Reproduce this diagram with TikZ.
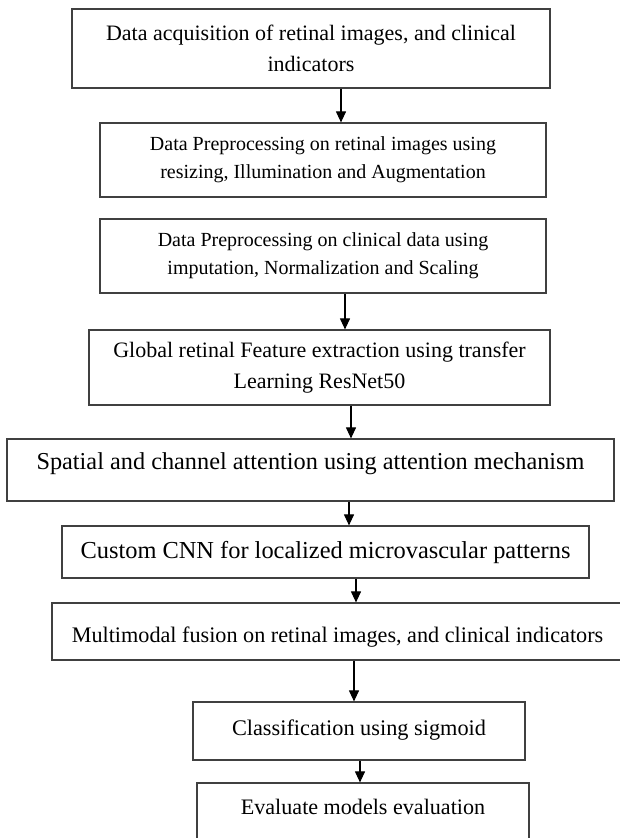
\documentclass[tikz,border=0pt]{standalone}
\usepackage{fontspec}
\setmainfont{Liberation Serif}
\usepackage{tikz}
\usetikzlibrary{arrows.meta, positioning}
\definecolor{boxgray}{RGB}{64,64,64}
\tikzset{
  block/.style={rectangle, draw=boxgray, line width=1.2pt, fill=white,
    align=center, inner sep=2pt},
  fs/.style 2 args={font=\fontsize{#1}{#2}\selectfont},
  arrow/.style={-{Triangle[width=10pt, length=11pt]}, line width=1.1pt, color=black},
}

\begin{document}
\begin{tikzpicture}[x=1pt, y=-1pt]
  \useasboundingbox (0,0) rectangle (620,838);

  \node[block, fs={22}{31}, minimum width=478pt, minimum height=79pt] (acq) at (311,48.5)
    {Data acquisition of retinal images, and clinical\\indicators};
  \node[block, fs={20}{28}, minimum width=446pt, minimum height=74pt] (imgprep) at (323,160)
    {Data Preprocessing on retinal images using\\resizing, Illumination and Augmentation};
  \node[block, fs={20}{28}, minimum width=446pt, minimum height=74pt] (clinprep) at (323,256)
    {Data Preprocessing on clinical data using\\imputation, Normalization and Scaling};
  \node[block, fs={22}{31}, minimum width=461pt, minimum height=75pt] (resnet) at (319.5,367.5)
    {Global retinal Feature extraction using transfer\\Learning ResNet50};
  \node[block, fs={24.3}{30}, minimum width=607pt, minimum height=62pt, text depth=17pt] (attn) at (310.5,470)
    {Spatial and channel attention using attention mechanism};
  \node[block, fs={24.4}{30}, minimum width=527pt, minimum height=52pt] (cnn) at (325.5,552)
    {Custom CNN for localized microvascular patterns};
  \node[block, fs={22.2}{28}, minimum width=571pt, minimum height=57pt, text height=26pt] (fusion) at (337.5,631.5)
    {Multimodal fusion on retinal images, and clinical indicators};
  \node[block, fs={22.3}{28}, minimum width=332pt, minimum height=58pt, text depth=7pt] (clf) at (359,731)
    {Classification using sigmoid};
  \node[block, fs={22.1}{28}, minimum width=332pt, minimum height=60pt, text depth=13pt] (evalm) at (363,813)
    {Evaluate models evaluation};

  % flow arrows (off-centre, as laid out)
  \draw[arrow] ([xshift=30pt]acq.south)      -- ([xshift=18pt]imgprep.north);
  \draw[arrow] ([xshift=22pt]clinprep.south) -- ([xshift=25.5pt]resnet.north);
  \draw[arrow] ([xshift=31.5pt]resnet.south) -- ([xshift=40.5pt]attn.north);
  \draw[arrow] ([xshift=38.5pt]attn.south)   -- ([xshift=23.5pt]cnn.north);
  \draw[arrow] ([xshift=30.5pt]cnn.south)    -- ([xshift=18.5pt]fusion.north);
  \draw[arrow] ([xshift=16.5pt]fusion.south) -- ([xshift=-5pt]clf.north);
  \draw[arrow] ([xshift=1pt]clf.south)       -- ([xshift=-3pt]evalm.north);
\end{tikzpicture}
\end{document}
